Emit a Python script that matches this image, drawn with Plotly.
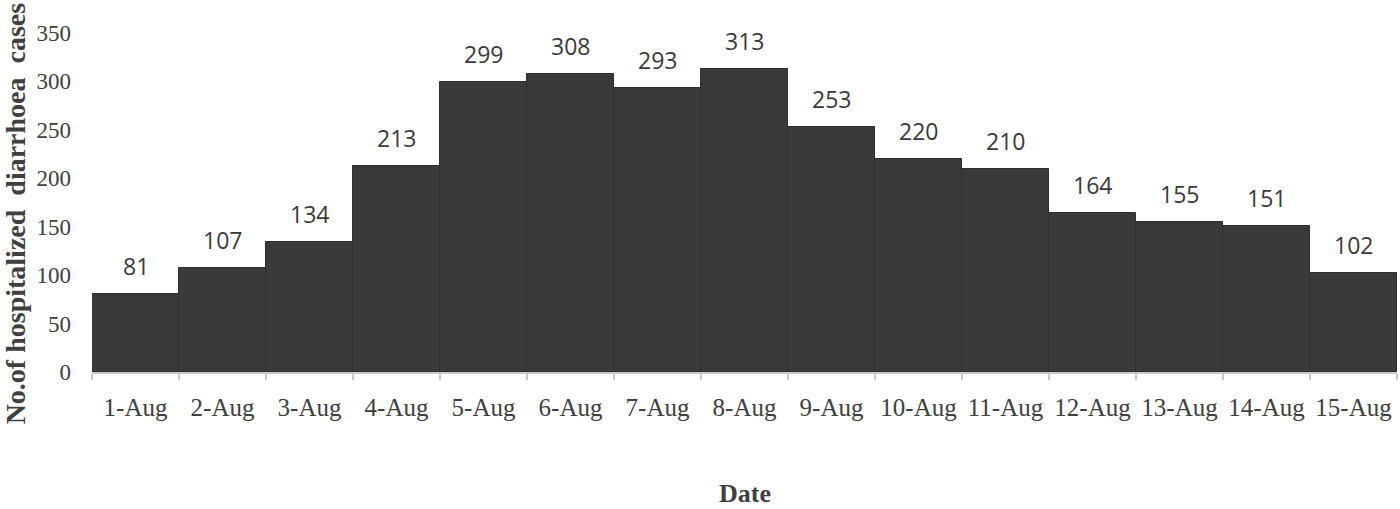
import plotly.graph_objects as go

dates = ["1-Aug", "2-Aug", "3-Aug", "4-Aug", "5-Aug", "6-Aug", "7-Aug", "8-Aug",
         "9-Aug", "10-Aug", "11-Aug", "12-Aug", "13-Aug", "14-Aug", "15-Aug"]
cases = [81, 107, 134, 213, 299, 308, 293, 313, 253, 220, 210, 164, 155, 151, 102]
y_ticks = [0, 50, 100, 150, 200, 250, 300, 350]

serif = "Liberation Serif, Times New Roman, serif"

fig = go.Figure()
fig.add_trace(go.Bar(
    x=dates, y=cases,
    marker=dict(color="#3a3a3a", line=dict(color="#2e2e2e", width=1)),
    width=1.0,
    hoverinfo="x+y",
))

for d, v in zip(dates, cases):
    fig.add_annotation(x=d, y=v, text=str(v), showarrow=False, yshift=28,
                       font=dict(family="Open Sans, Liberation Sans, sans-serif", size=23, color="#3a3a3a"))

# axis titles as annotations (positioned as in the reference)
fig.add_annotation(xref="paper", yref="paper", x=-0.059, y=0.468,
                   text="<b>No.of hospitalized  diarrhoea  cases</b>", textangle=-90,
                   showarrow=False, xanchor="center", yanchor="middle",
                   font=dict(family=serif, size=28, color="#404040"))
fig.add_annotation(xref="paper", yref="paper", x=0.5, y=-0.358,
                   text="<b>Date</b>", showarrow=False, xanchor="center", yanchor="middle",
                   font=dict(family=serif, size=26, color="#404040"))

fig.update_layout(
    width=1400, height=509,
    margin=dict(l=92, r=3, t=33, b=137),
    plot_bgcolor="white", paper_bgcolor="white",
    bargap=0, showlegend=False,
    xaxis=dict(
        type="category", automargin=False,
        showline=True, linecolor="#c8c8c8", linewidth=2,
        ticks="outside", tickson="boundaries", ticklen=6, tickcolor="#c8c8c8", tickwidth=2,
        tickfont=dict(family=serif, size=25, color="#404040"),
        ticklabelstandoff=12,
        showgrid=False,
    ),
    yaxis=dict(
        automargin=False,
        range=[0, 350], tickvals=y_ticks,
        showline=False, showgrid=False, zeroline=False,
        tickfont=dict(family=serif, size=23, color="#404040"),
        ticklabelstandoff=20,
    ),
)

fig.write_html("out.html", config={"displayModeBar": False},
               post_script="document.body.style.margin='0';document.body.style.overflow='hidden';")
